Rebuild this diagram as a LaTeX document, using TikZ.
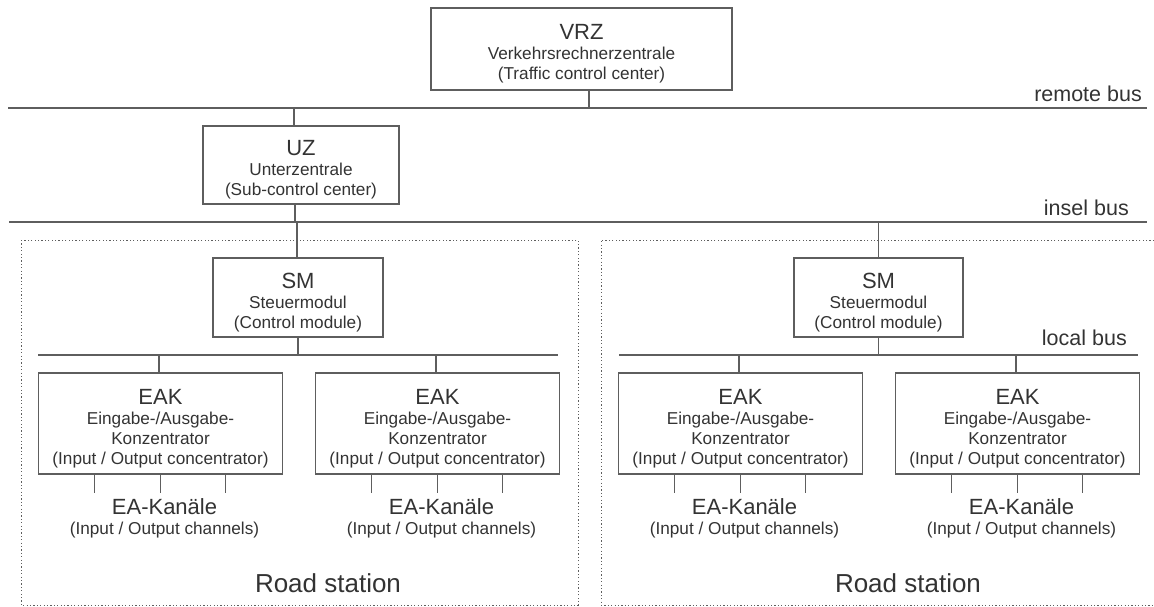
\documentclass[tikz,border=0pt]{standalone}
\usepackage{fontspec}
\setmainfont{Liberation Sans}
\definecolor{ln}{HTML}{5E5E5E}
\definecolor{tx}{HTML}{333333}
\newcommand{\ttl}{\fontsize{22}{20}\selectfont\rule{0pt}{25pt}}
\newcommand{\sbt}{\fontsize{17.2}{20}\selectfont}
\begin{document}
\begin{tikzpicture}[x=1pt,y=-1pt,
  bx/.style={draw=ln,line width=1.4pt,rectangle,inner sep=0pt,align=center,text=tx,font=\sbt},
  bus/.style={draw=ln,line width=1.4pt},
  wire/.style={draw=ln,line width=1.4pt},
  busl/.style={anchor=base east,text=tx,font=\fontsize{21.5}{24}\selectfont,inner sep=0pt},
  rs/.style={draw=ln,line width=1pt,dash pattern=on 1.2pt off 2.2pt},
  lbl/.style={text=tx,align=center,inner sep=0pt}]
\useasboundingbox (0,0) rectangle (1154,606);
% road station frames
\draw[rs] (21,240) rectangle (578,605);
\draw[rs] (1154,240) -- (601,240) -- (601,605) -- (1154,605);
% buses
\coordinate (rbL) at (8,108); \coordinate (rbR) at (1147,108);
\coordinate (ibL) at (9,222); \coordinate (ibR) at (1147,222);
\coordinate (lbL1) at (38,355); \coordinate (lbR1) at (558,355);
\coordinate (lbL2) at (619,355); \coordinate (lbR2) at (1138,355);
\draw[bus] (rbL) -- (rbR);
\draw[bus] (ibL) -- (ibR);
\draw[bus] (lbL1) -- (lbR1);
\draw[bus] (lbL2) -- (lbR2);
\node[busl] (rbt) at (1142,101) {remote bus};
\node[busl] (ibt) at (1129,215) {insel bus};
\node[busl] (lbt) at (1127,345) {local bus};
% boxes
\node[bx,minimum width=301pt,minimum height=82pt] (vrz) at (581.5,49)
  {{\ttl VRZ}\\Verkehrsrechnerzentrale\\(Traffic control center)};
\node[bx,minimum width=196pt,minimum height=78pt] (uz) at (301,165)
  {{\ttl UZ}\\Unterzentrale\\(Sub-control center)};
\node[bx,minimum width=170pt,minimum height=79pt] (sm1) at (298,297.5)
  {{\ttl SM}\\Steuermodul\\(Control module)};
\node[bx,minimum width=169pt,minimum height=79pt] (sm2) at (878.5,297.5)
  {{\ttl SM}\\Steuermodul\\(Control module)};
\foreach \n/\cx in {e1/160.5,e2/437.5,e3/740.5,e4/1017.5}{
  \node[bx,minimum width=244pt,minimum height=101pt] (\n) at (\cx,423.5)
    {{\ttl EAK}\\Eingabe-/Ausgabe-\\Konzentrator\\(Input / Output concentrator)};
  \node[lbl,font=\fontsize{22}{24}\selectfont] (\n k) at (\cx+4,507) {EA-Kanäle};
  \node[lbl,font=\sbt] (\n c) at (\cx+4,530) {(Input / Output channels)};
  \draw[wire] ([xshift=-66pt]\n.south) -- ++(0,18);
  \draw[wire] (\n.south) -- ++(0,18);
  \draw[wire] ([xshift=65pt]\n.south) -- ++(0,18);
}
\node[lbl,font=\fontsize{26}{30}\selectfont] (rs1) at (328,583) {Road station};
\node[lbl,font=\fontsize{26}{30}\selectfont] (rs2) at (908,583) {Road station};
% connectors
\draw[wire] ([xshift=7.5pt]vrz.south) -- ([xshift=7.5pt]vrz.south |- rbL);
\draw[wire] ([xshift=-7pt]uz.north) -- ([xshift=-7pt]uz.north |- rbL);
\draw[wire] ([xshift=-6pt]uz.south) -- ([xshift=-6pt]uz.south |- ibL);
\draw[wire] ([xshift=-1pt]sm1.north) -- ([xshift=-1pt]sm1.north |- ibL);
\draw[wire] (sm2.north) -- (sm2.north |- ibL);
\draw[wire] (sm1.south) -- (sm1.south |- lbL1);
\draw[wire] (sm2.south) -- (sm2.south |- lbL2);
\foreach \n in {e1,e2,e3,e4}{
  \draw[wire] ([xshift=-1.5pt]\n.north) -- ([xshift=-1.5pt]\n.north |- lbL1);
}
\end{tikzpicture}
\end{document}
